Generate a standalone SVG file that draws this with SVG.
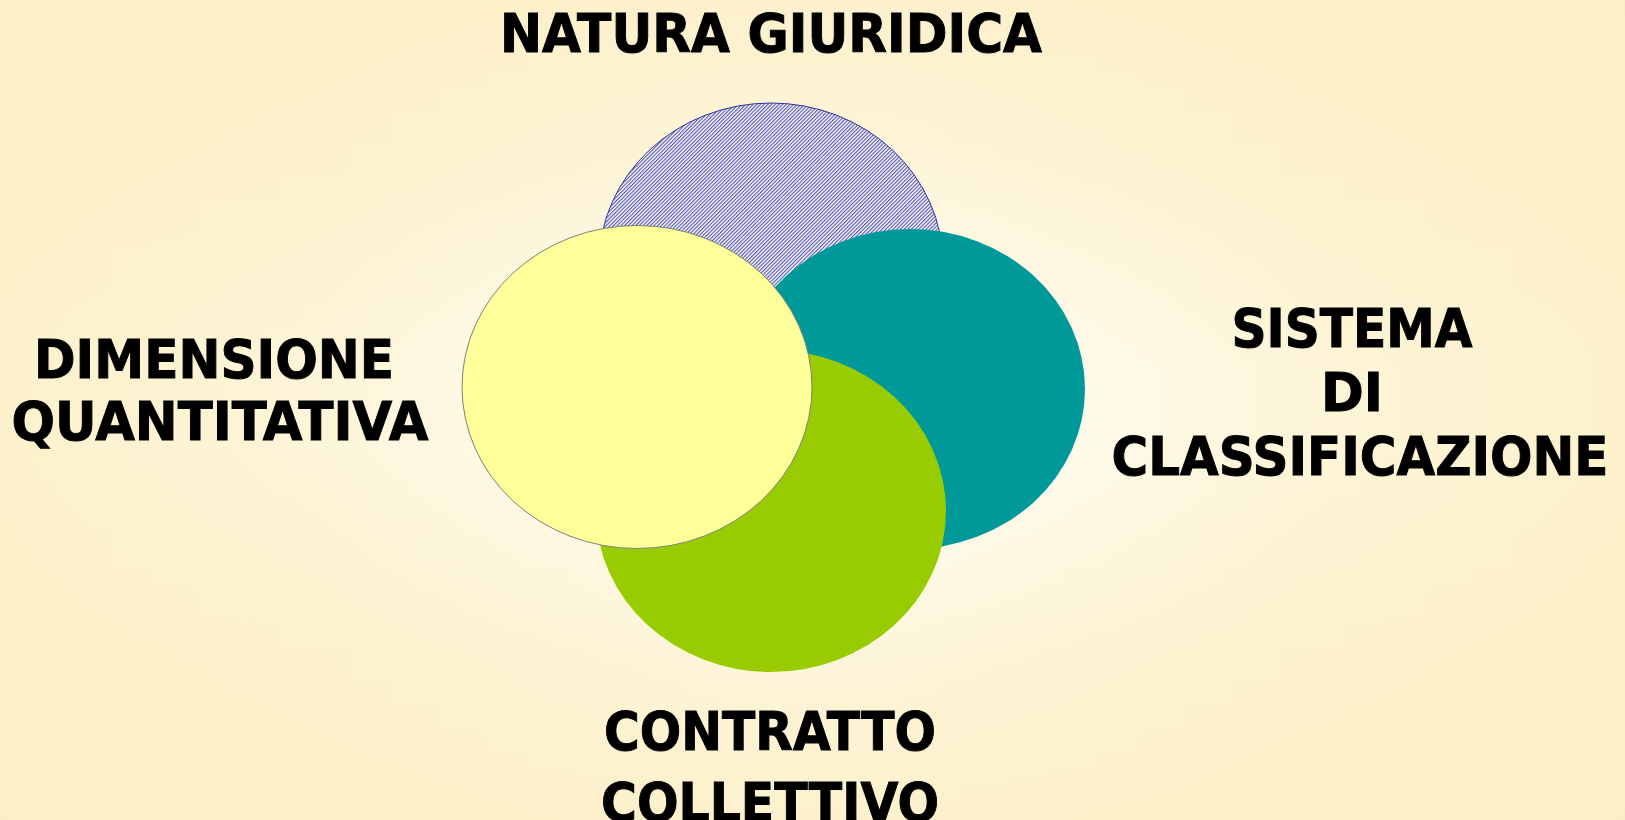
<svg xmlns="http://www.w3.org/2000/svg" width="1625" height="820" viewBox="0 0 1625 820">
<defs>
<linearGradient id="gx" x1="0" y1="0" x2="1" y2="0">
<stop offset="0" stop-color="#FCEFC4" stop-opacity="1"/>
<stop offset="0.2" stop-color="#FCEFC4" stop-opacity="0.7"/>
<stop offset="0.45" stop-color="#FCEFC4" stop-opacity="0"/>
<stop offset="0.55" stop-color="#FCEFC4" stop-opacity="0"/>
<stop offset="0.8" stop-color="#FCEFC4" stop-opacity="0.7"/>
<stop offset="1" stop-color="#FCEFC4" stop-opacity="1"/>
</linearGradient>
<linearGradient id="gy" x1="0" y1="0" x2="0" y2="1">
<stop offset="0" stop-color="#FCEFC4" stop-opacity="1"/>
<stop offset="0.2" stop-color="#FCEFC4" stop-opacity="0.7"/>
<stop offset="0.45" stop-color="#FCEFC4" stop-opacity="0"/>
<stop offset="0.55" stop-color="#FCEFC4" stop-opacity="0"/>
<stop offset="0.8" stop-color="#FCEFC4" stop-opacity="0.7"/>
<stop offset="1" stop-color="#FCEFC4" stop-opacity="1"/>
</linearGradient>
<pattern id="hatch" patternUnits="userSpaceOnUse" width="2.6" height="2.6" patternTransform="rotate(45)">
<rect width="2.6" height="2.6" fill="#FFFFFF"/>
<rect width="1.2" height="2.6" fill="#5A5AAE"/>
</pattern>
<style>
.lbl{font-family:"DejaVu Sans","Verdana",sans-serif;font-weight:bold;font-size:54px;fill:#000;stroke:#000;stroke-width:1;text-anchor:middle}
</style>
</defs>
<rect width="1625" height="820" fill="#FFFEF8"/>
<rect width="1625" height="820" fill="url(#gx)" opacity="0.85"/>
<rect width="1625" height="820" fill="url(#gy)" opacity="0.85"/>
<g id="node-natura-ellipse"><ellipse cx="771" cy="264" rx="172" ry="161" fill="url(#hatch)" stroke="#33339A" stroke-width="1"/></g>
<g id="node-sistema-ellipse"><ellipse cx="910" cy="389" rx="175" ry="160" fill="#009999"/></g>
<g id="node-contratto-ellipse"><ellipse cx="771" cy="511" rx="175" ry="161" fill="#99CC00"/></g>
<g id="node-dimensione-ellipse"><ellipse cx="637" cy="387" rx="175" ry="161.5" fill="#FFFF99" stroke="#808080" stroke-width="1"/></g>
<g id="connectors"></g>
<g id="node-natura"><text class="lbl" x="771" y="52" textLength="542" lengthAdjust="spacingAndGlyphs">NATURA GIURIDICA</text></g>
<g id="node-dimensione"><text class="lbl" x="214" y="378" textLength="360" lengthAdjust="spacingAndGlyphs">DIMENSIONE</text><text class="lbl" x="220" y="440" textLength="417" lengthAdjust="spacingAndGlyphs">QUANTITATIVA</text></g>
<g id="node-sistema"><text class="lbl" x="1352" y="347" textLength="241" lengthAdjust="spacingAndGlyphs">SISTEMA</text><text class="lbl" x="1352" y="411" textLength="62" lengthAdjust="spacingAndGlyphs">DI</text><text class="lbl" x="1360" y="475" textLength="497" lengthAdjust="spacingAndGlyphs">CLASSIFICAZIONE</text></g>
<g id="node-contratto"><text class="lbl" x="770" y="750" textLength="332" lengthAdjust="spacingAndGlyphs">CONTRATTO</text><text class="lbl" x="770" y="821" textLength="338" lengthAdjust="spacingAndGlyphs">COLLETTIVO</text></g>
</svg>
